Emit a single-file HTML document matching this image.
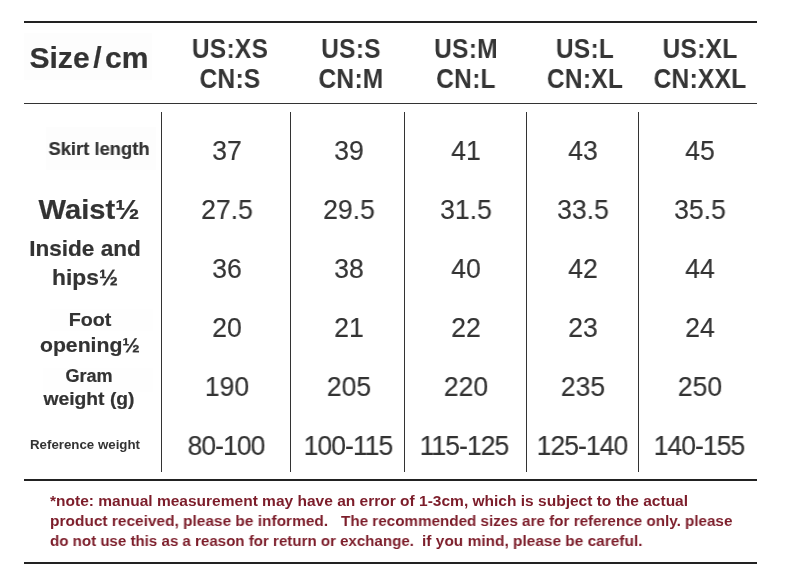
<!DOCTYPE html>
<html lang="en"><head><meta charset="utf-8"><title>Size chart</title>
<style>
html,body{margin:0;padding:0;background:#fff;}
body{width:790px;height:584px;position:relative;overflow:hidden;font-family:"Liberation Sans",sans-serif;color:#333;}
.hl{position:absolute;left:24px;width:733px;background:#222;}
.pt{position:absolute;}
.vl{position:absolute;top:112px;height:360px;width:1px;background:#333;}
.t{position:absolute;white-space:pre;line-height:1;will-change:transform;}
.h{font-weight:bold;color:#353535;letter-spacing:.3px;}
.n{color:#333;-webkit-text-stroke:.15px #333;}
.l{font-weight:bold;color:#333;-webkit-text-stroke:.2px #333;}
.note{font-weight:bold;color:#7c1d2a;transform-origin:0 50%;}
</style></head><body>

<div class="pt" style="left:24px;top:33px;width:128px;height:47px;background:#fdfdfd"></div>
<div class="pt" style="left:46px;top:127px;width:110px;height:43px;background:#fdfdfd"></div>
<div class="pt" style="left:50px;top:309px;width:103px;height:22px;background:#fefefe"></div>
<div class="pt" style="left:43px;top:368px;width:110px;height:24px;background:#fefefe"></div>
<div class="hl" style="top:21px;height:2px"></div>
<div class="hl" style="top:103px;height:1px;background:#333"></div>
<div class="hl" style="top:479px;height:2px"></div>
<div class="hl" style="top:562px;height:2px"></div>
<div class="vl" style="left:161px"></div>
<div class="vl" style="left:290px"></div>
<div class="vl" style="left:404px"></div>
<div class="vl" style="left:526px"></div>
<div class="vl" style="left:638px"></div>
<div id="t0" class="t l" style="left:88.70px;top:43.00px;font-size:29.65px;transform:translateX(-50%) scaleX(1.015);">Size<span style="margin:0 3.4px 0 3.6px">/</span>cm</div>
<div id="t1" class="t h" style="left:229.80px;top:35.00px;font-size:27.4px;transform:translateX(-50%) scaleX(0.895);">US:XS</div>
<div id="t2" class="t h" style="left:229.80px;top:65.00px;font-size:27.4px;transform:translateX(-50%) scaleX(0.895);">CN:S</div>
<div id="t3" class="t h" style="left:350.90px;top:35.00px;font-size:27.4px;transform:translateX(-50%) scaleX(0.895);">US:S</div>
<div id="t4" class="t h" style="left:350.90px;top:65.00px;font-size:27.4px;transform:translateX(-50%) scaleX(0.895);">CN:M</div>
<div id="t5" class="t h" style="left:466.40px;top:35.00px;font-size:27.4px;transform:translateX(-50%) scaleX(0.895);">US:M</div>
<div id="t6" class="t h" style="left:466.40px;top:65.00px;font-size:27.4px;transform:translateX(-50%) scaleX(0.895);">CN:L</div>
<div id="t7" class="t h" style="left:584.70px;top:35.00px;font-size:27.4px;transform:translateX(-50%) scaleX(0.895);">US:L</div>
<div id="t8" class="t h" style="left:584.70px;top:65.00px;font-size:27.4px;transform:translateX(-50%) scaleX(0.895);">CN:XL</div>
<div id="t9" class="t h" style="left:699.80px;top:35.00px;font-size:27.4px;transform:translateX(-50%) scaleX(0.895);">US:XL</div>
<div id="t10" class="t h" style="left:699.80px;top:65.00px;font-size:27.4px;transform:translateX(-50%) scaleX(0.895);">CN:XXL</div>
<div id="t11" class="t n" style="left:226.50px;top:138.00px;font-size:27px;transform:translateX(-50%) scaleX(0.985);">37</div>
<div id="t12" class="t n" style="left:349.40px;top:138.00px;font-size:27px;transform:translateX(-50%) scaleX(0.985);">39</div>
<div id="t13" class="t n" style="left:465.50px;top:138.00px;font-size:27px;transform:translateX(-50%) scaleX(0.985);">41</div>
<div id="t14" class="t n" style="left:583.30px;top:138.00px;font-size:27px;transform:translateX(-50%) scaleX(0.985);">43</div>
<div id="t15" class="t n" style="left:700.40px;top:138.00px;font-size:27px;transform:translateX(-50%) scaleX(0.985);">45</div>
<div id="t16" class="t n" style="left:226.50px;top:197.00px;font-size:27px;transform:translateX(-50%) scaleX(0.985);">27.5</div>
<div id="t17" class="t n" style="left:349.40px;top:197.00px;font-size:27px;transform:translateX(-50%) scaleX(0.985);">29.5</div>
<div id="t18" class="t n" style="left:465.50px;top:197.00px;font-size:27px;transform:translateX(-50%) scaleX(0.985);">31.5</div>
<div id="t19" class="t n" style="left:583.30px;top:197.00px;font-size:27px;transform:translateX(-50%) scaleX(0.985);">33.5</div>
<div id="t20" class="t n" style="left:700.40px;top:197.00px;font-size:27px;transform:translateX(-50%) scaleX(0.985);">35.5</div>
<div id="t21" class="t n" style="left:226.50px;top:256.00px;font-size:27px;transform:translateX(-50%) scaleX(0.985);">36</div>
<div id="t22" class="t n" style="left:349.40px;top:256.00px;font-size:27px;transform:translateX(-50%) scaleX(0.985);">38</div>
<div id="t23" class="t n" style="left:465.50px;top:256.00px;font-size:27px;transform:translateX(-50%) scaleX(0.985);">40</div>
<div id="t24" class="t n" style="left:583.30px;top:256.00px;font-size:27px;transform:translateX(-50%) scaleX(0.985);">42</div>
<div id="t25" class="t n" style="left:700.40px;top:256.00px;font-size:27px;transform:translateX(-50%) scaleX(0.985);">44</div>
<div id="t26" class="t n" style="left:226.50px;top:315.00px;font-size:27px;transform:translateX(-50%) scaleX(0.985);">20</div>
<div id="t27" class="t n" style="left:349.40px;top:315.00px;font-size:27px;transform:translateX(-50%) scaleX(0.985);">21</div>
<div id="t28" class="t n" style="left:465.50px;top:315.00px;font-size:27px;transform:translateX(-50%) scaleX(0.985);">22</div>
<div id="t29" class="t n" style="left:583.30px;top:315.00px;font-size:27px;transform:translateX(-50%) scaleX(0.985);">23</div>
<div id="t30" class="t n" style="left:700.40px;top:315.00px;font-size:27px;transform:translateX(-50%) scaleX(0.985);">24</div>
<div id="t31" class="t n" style="left:226.50px;top:374.00px;font-size:27px;transform:translateX(-50%) scaleX(0.985);">190</div>
<div id="t32" class="t n" style="left:349.40px;top:374.00px;font-size:27px;transform:translateX(-50%) scaleX(0.985);">205</div>
<div id="t33" class="t n" style="left:465.50px;top:374.00px;font-size:27px;transform:translateX(-50%) scaleX(0.985);">220</div>
<div id="t34" class="t n" style="left:583.30px;top:374.00px;font-size:27px;transform:translateX(-50%) scaleX(0.985);">235</div>
<div id="t35" class="t n" style="left:700.40px;top:374.00px;font-size:27px;transform:translateX(-50%) scaleX(0.985);">250</div>
<div id="t36" class="t n" style="left:226.10px;top:433.00px;font-size:27px;transform:translateX(-50%) scaleX(0.985);letter-spacing:-1px;">80-100</div>
<div id="t37" class="t n" style="left:347.90px;top:433.00px;font-size:27px;transform:translateX(-50%) scaleX(0.985);letter-spacing:-1px;">100-115</div>
<div id="t38" class="t n" style="left:464.00px;top:433.00px;font-size:27px;transform:translateX(-50%) scaleX(0.985);letter-spacing:-1px;">115-125</div>
<div id="t39" class="t n" style="left:581.50px;top:433.00px;font-size:27px;transform:translateX(-50%) scaleX(0.985);letter-spacing:-1px;">125-140</div>
<div id="t40" class="t n" style="left:698.80px;top:433.00px;font-size:27px;transform:translateX(-50%) scaleX(0.985);letter-spacing:-1px;">140-155</div>
<div id="t41" class="t l" style="left:98.50px;top:140.00px;font-size:18.7px;transform:translateX(-50%) scaleX(0.983);">Skirt length</div>
<div id="t42" class="t l" style="left:89.00px;top:195.00px;font-size:28.2px;transform:translateX(-50%) scaleX(1.033);">Waist½</div>
<div id="t43" class="t l" style="left:85.10px;top:239.00px;font-size:21.4px;transform:translateX(-50%) scaleX(1.055);">Inside and</div>
<div id="t44" class="t l" style="left:85.10px;top:268.00px;font-size:21.4px;transform:translateX(-50%) scaleX(1.065);">hips½</div>
<div id="t45" class="t l" style="left:90.40px;top:310.00px;font-size:19.0px;transform:translateX(-50%) scaleX(1.037);">Foot</div>
<div id="t46" class="t l" style="left:90.00px;top:335.00px;font-size:20.5px;transform:translateX(-50%) scaleX(1.033);">opening½</div>
<div id="t47" class="t l" style="left:89.00px;top:368.00px;font-size:17.5px;transform:translateX(-50%) scaleX(1.032);">Gram</div>
<div id="t48" class="t l" style="left:89.30px;top:390.00px;font-size:18.0px;transform:translateX(-50%) scaleX(1.072);">weight (g)</div>
<div id="t49" class="t l" style="left:85.10px;top:439.00px;font-size:12.9px;transform:translateX(-50%) scaleX(1.03);-webkit-text-stroke:0;">Reference weight</div>
<div id="n0" class="t note" style="left:49.9px;top:493.00px;font-size:15.5px;transform:scaleX(1.001)">*note: manual measurement may have an error of 1-3cm, which is subject to the actual</div>
<div id="n1" class="t note" style="left:49.9px;top:513.00px;font-size:15.5px;transform:scaleX(0.9965)">product received, please be informed.</div>
<div id="n2" class="t note" style="left:341.2px;top:513.00px;font-size:15.5px;transform:scaleX(0.982)">The recommended sizes are for reference only. please</div>
<div id="n3" class="t note" style="left:49.9px;top:533.00px;font-size:15.5px;transform:scaleX(0.9734)">do not use this as a reason for return or exchange.</div>
<div id="n4" class="t note" style="left:422.0px;top:533.00px;font-size:15.5px;transform:scaleX(0.9964)">if you mind, please be careful.</div>
</body></html>
